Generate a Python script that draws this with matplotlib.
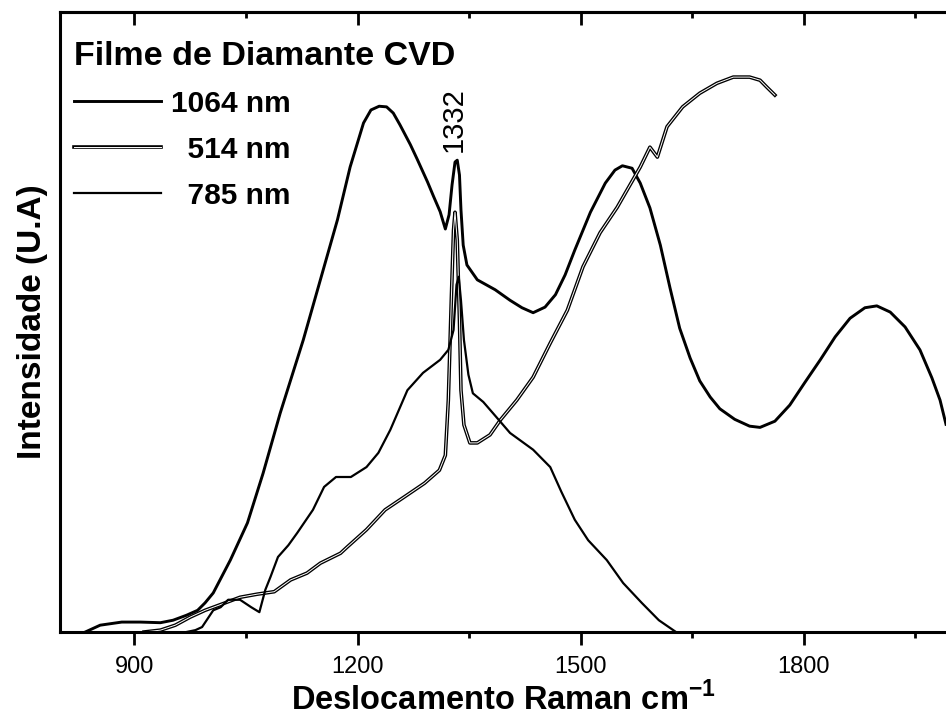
import matplotlib
matplotlib.use('Agg')
import matplotlib.pyplot as plt
import matplotlib.patheffects as pe
from matplotlib.ticker import MultipleLocator, NullLocator
from matplotlib.font_manager import FontProperties

plt.rcParams['font.family'] = ['Liberation Sans', 'DejaVu Sans']
plt.rcParams['mathtext.fontset'] = 'custom'
plt.rcParams['mathtext.rm'] = 'Liberation Sans'
plt.rcParams['mathtext.bf'] = 'Liberation Sans:bold'

# ---------------- data ----------------
wn_1064 = [834, 854, 883, 908, 935, 952, 970, 985, 995, 1006, 1029, 1052, 1073, 1096, 1127,
           1150, 1173, 1190, 1208, 1218, 1229, 1239, 1248, 1257, 1271, 1280, 1294, 1302, 1311,
           1318, 1323, 1327, 1331, 1334, 1337, 1339, 1342, 1347, 1361, 1385, 1405, 1421, 1436,
           1452, 1466, 1479, 1492, 1513, 1533, 1546, 1556, 1569, 1580, 1593, 1607, 1620, 1633,
           1647, 1660, 1674, 1687, 1707, 1727, 1741, 1761, 1781, 1801, 1822, 1842, 1862, 1882,
           1898, 1916, 1936, 1956, 1972, 1983, 1991]
int_1064 = [0, 1.1, 1.6, 1.6, 1.5, 1.9, 2.7, 3.5, 4.7, 6.3, 11.6, 17.6, 25.6, 35.3, 47.1,
            56.8, 66.5, 75.0, 82.1, 84.2, 84.8, 84.7, 83.7, 81.8, 78.6, 76.3, 72.6, 70.3, 67.8,
            65.0, 67.3, 72.1, 75.8, 76.1, 73.7, 68.1, 62.4, 59.2, 56.8, 55.2, 53.5, 52.3, 51.5,
            52.4, 54.4, 57.6, 61.6, 67.7, 72.4, 74.5, 75.2, 74.8, 72.4, 68.4, 62.4, 55.5, 49.0,
            44.2, 40.5, 37.9, 36.0, 34.3, 33.2, 33.0, 34.0, 36.6, 40.2, 43.9, 47.6, 50.6, 52.3,
            52.6, 51.6, 49.2, 45.5, 41.0, 37.4, 33.5]

wn_514 = [913, 935, 955, 975, 995, 1022, 1042, 1065, 1088, 1110, 1132, 1150, 1177, 1186, 1212,
          1237, 1263, 1290, 1310, 1318, 1322, 1326, 1329, 1331, 1334, 1337, 1339, 1343, 1351,
          1361, 1378, 1392, 1414, 1436, 1459, 1482, 1503, 1526, 1549, 1570, 1580, 1593, 1603,
          1616, 1637, 1660, 1683, 1705, 1727, 1741, 1750, 1761]
int_514 = [0, 0.3, 1.1, 2.4, 3.5, 4.7, 5.6, 6.1, 6.5, 8.4, 9.5, 11.1, 12.7, 13.7, 16.5,
           19.7, 21.8, 24.0, 26.1, 28.5, 37.4, 53.5, 64.8, 67.7, 63.2, 50.3, 39.0, 33.4, 30.5,
           30.5, 31.8, 34.2, 37.4, 41.1, 46.6, 51.9, 58.9, 64.4, 68.5, 72.9, 75.0, 78.2, 76.6,
           81.5, 84.7, 86.9, 88.5, 89.5, 89.5, 89.0, 87.9, 86.6]

wn_785 = [970, 982, 991, 1006, 1016, 1026, 1042, 1057, 1068, 1076, 1083, 1093, 1107, 1119, 1140,
          1155, 1171, 1191, 1212, 1228, 1244, 1267, 1288, 1311, 1322, 1329, 1333, 1336, 1339,
          1343, 1349, 1355, 1369, 1382, 1405, 1436, 1459, 1474, 1492, 1510, 1535, 1557, 1582,
          1605, 1628]
int_785 = [0, 0.3, 0.8, 3.5, 4.0, 5.2, 5.2, 4.0, 3.2, 6.8, 8.9, 12.1, 14.0, 16.0, 19.7,
           23.4, 25.0, 25.0, 26.6, 28.9, 32.6, 39.0, 41.8, 43.9, 45.5, 48.7, 56.0, 57.3, 53.5,
           47.1, 41.5, 38.5, 37.1, 35.3, 32.1, 29.4, 26.6, 22.6, 18.1, 14.8, 11.6, 7.9, 4.7,
           1.9, 0]

labels = ['1064 nm', '  514 nm', '  785 nm']
legend_title = 'Filme de Diamante CVD'
peak_label = '1332'
peak_pos = 1332
x_ticks = [900, 1200, 1500, 1800]
xlim = (800, 1991)
ylim = (0, 100)

# ---------------- figure ----------------
fig = plt.figure(figsize=(9.46, 7.22), dpi=100)
ax = fig.add_axes([60 / 946, 90 / 722, 886 / 946, 620 / 722])

l1064, = ax.plot(wn_1064, int_1064, color='black', lw=2.1, solid_joinstyle='round')
l514, = ax.plot(wn_514, int_514, color='white', lw=0.7,
                path_effects=[pe.Stroke(linewidth=2.6, foreground='black'), pe.Normal()])
l785, = ax.plot(wn_785, int_785, color='black', lw=1.6, solid_joinstyle='round')

ax.set_xlim(*xlim)
ax.set_ylim(*ylim)

ax.set_xticks(x_ticks)
ax.xaxis.set_minor_locator(MultipleLocator(150))
ax.yaxis.set_major_locator(NullLocator())
ax.tick_params(axis='x', which='major', direction='out', length=9, width=2, labelsize=17, pad=8)
ax.tick_params(axis='x', which='minor', direction='out', length=4, width=2)

# top axis ticks pointing inward
top = ax.secondary_xaxis('top')
top.set_xticks(x_ticks)
top.xaxis.set_minor_locator(MultipleLocator(150))
top.tick_params(axis='x', which='major', direction='in', length=9, width=2, labeltop=False)
top.tick_params(axis='x', which='minor', direction='in', length=4, width=2)
top.spines['top'].set_linewidth(2.2)

for s in ['left', 'bottom', 'top']:
    ax.spines[s].set_linewidth(2.2)
ax.spines['right'].set_visible(False)

ax.set_xlabel('Deslocamento Raman cm$^{\\mathbf{-1}}$', fontsize=23.5, fontweight='bold', labelpad=3)
ax.set_ylabel('Intensidade (U.A)', fontsize=24, fontweight='bold')
ax.yaxis.set_label_coords(-0.014, 0.5)

ax.text(peak_pos - 3, 77.5, peak_label, rotation=90, ha='center', va='bottom', fontsize=21)

leg = ax.legend(handles=[l1064, l514, l785], labels=labels, title=legend_title,
                loc='upper left', bbox_to_anchor=(0.006, 0.968), frameon=False,
                prop=FontProperties(family='Liberation Sans', weight='bold', size=21.5),
                title_fontproperties=FontProperties(family='Liberation Sans', weight='bold', size=24.5),
                alignment='left', handlelength=2.9, handletextpad=0.33,
                labelspacing=0.6, borderpad=0.3, borderaxespad=0.0)

fig.savefig('out.png', dpi=100)
